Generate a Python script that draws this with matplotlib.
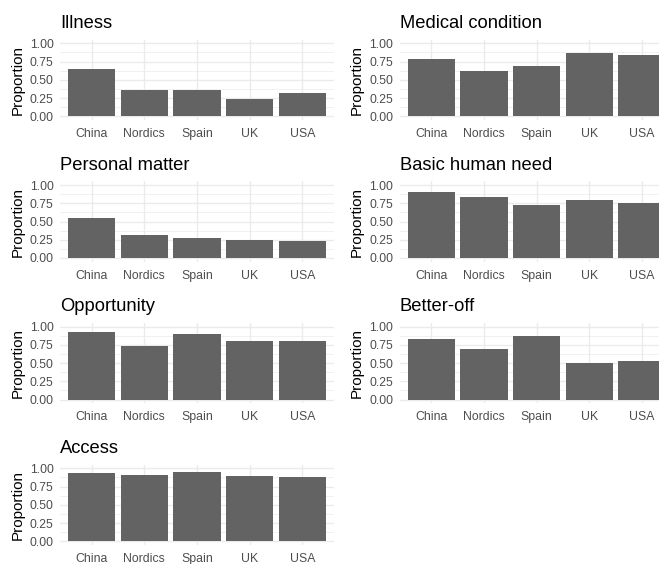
import matplotlib
matplotlib.use("Agg")
import matplotlib.pyplot as plt
import numpy as np

plt.rcParams["font.family"] = ["Liberation Sans", "DejaVu Sans"]

countries = ["China", "Nordics", "Spain", "UK", "USA"]
panel_titles = ["Illness", "Medical condition", "Personal matter",
                "Basic human need", "Opportunity", "Better-off", "Access"]

illness = [0.65, 0.36, 0.355, 0.23, 0.32]
medical_condition = [0.78, 0.615, 0.685, 0.865, 0.84]
personal_matter = [0.55, 0.315, 0.28, 0.25, 0.23]
basic_human_need = [0.90, 0.84, 0.72, 0.795, 0.75]
opportunity = [0.93, 0.74, 0.895, 0.80, 0.80]
better_off = [0.83, 0.695, 0.865, 0.50, 0.525]
access = [0.94, 0.905, 0.955, 0.895, 0.885]

series = [illness, medical_condition, personal_matter, basic_human_need,
          opportunity, better_off, access]

y_ticks = [0.0, 0.25, 0.5, 0.75, 1.0]
y_tick_labels = ["0.00", "0.25", "0.50", "0.75", "1.00"]
y_minor = [0.125, 0.375, 0.625, 0.875]

W, H = 659, 564
fig = plt.figure(figsize=(W / 100, H / 100), dpi=100)
fig.patch.set_facecolor("white")

BAR = "#636363"
GRID = "#EBEBEB"
TEXT = "#4D4D4D"

col_left = [60.1, 399.8]
panel_w = 273.7
row_top = [39.7, 181.4, 323.0, 464.7]
panel_h = 80.2

for i, (title, vals) in enumerate(zip(panel_titles, series)):
    r, c = divmod(i, 2)
    left = col_left[c]
    top = row_top[r]
    ax = fig.add_axes([left / W, 1 - (top + panel_h) / H, panel_w / W, panel_h / H])
    ax.set_facecolor("white")
    x = np.arange(len(countries))
    ax.bar(x, vals, width=0.9, color=BAR, zorder=3)
    ax.set_xlim(-0.6, len(countries) - 0.4)
    ax.set_ylim(-0.05, 1.05)
    ax.set_xticks(x)
    ax.set_xticklabels(countries)
    ax.set_yticks(y_ticks)
    ax.set_yticklabels(y_tick_labels)
    ax.set_yticks(y_minor, minor=True)
    ax.grid(True, which="major", axis="both", color=GRID, linewidth=1.0, zorder=0)
    ax.grid(True, which="minor", axis="y", color=GRID, linewidth=0.5, zorder=0)
    for s in ax.spines.values():
        s.set_visible(False)
    ax.tick_params(axis="both", which="both", length=0, labelsize=8.8, labelcolor=TEXT)
    ax.tick_params(axis="y", pad=4.6)
    ax.tick_params(axis="x", pad=5.8)
    ax.set_ylabel("Proportion", fontsize=11, color="black")
    ax.yaxis.set_label_coords(-0.13, 0.5)
    ax.set_title(title, loc="left", fontsize=13.2, color="black", pad=8.3)

fig.savefig("out.png", dpi=100, facecolor="white")
